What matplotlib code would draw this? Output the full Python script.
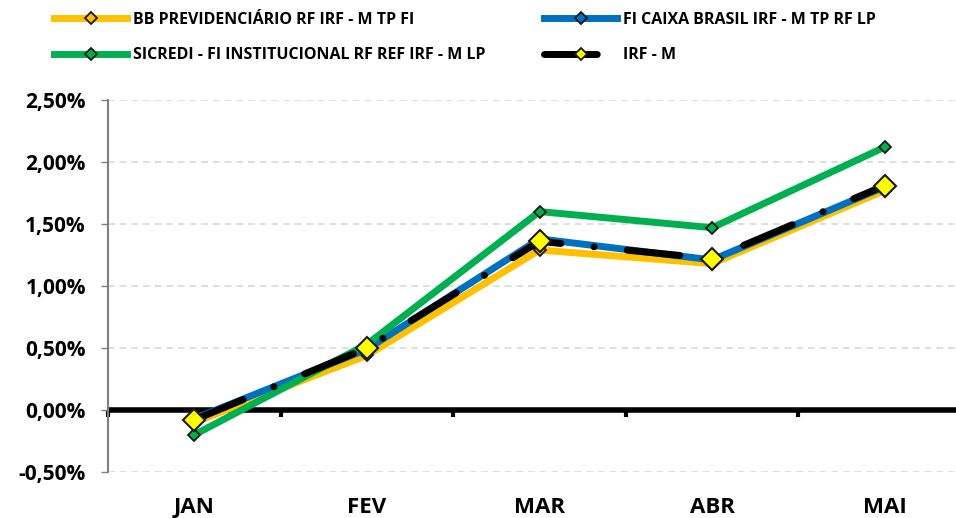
import matplotlib.pyplot as plt
from matplotlib.lines import Line2D
from matplotlib.ticker import FuncFormatter

meses = ["JAN", "FEV", "MAR", "ABR", "MAI"]

bb_prev = [-0.10, 0.44, 1.29, 1.18, 1.77]
caixa = [-0.07, 0.49, 1.38, 1.21, 1.80]
sicredi = [-0.20, 0.53, 1.60, 1.47, 2.12]
irfm = [-0.08, 0.50, 1.36, 1.22, 1.81]

nomes = ["BB PREVIDENCIÁRIO RF IRF - M TP FI",
         "FI CAIXA BRASIL IRF - M TP RF LP",
         "SICREDI - FI INSTITUCIONAL RF REF IRF - M LP",
         "IRF - M"]

plt.rcParams['font.family'] = ['Open Sans', 'DejaVu Sans']
plt.rcParams['font.weight'] = 'bold'

fig = plt.figure(figsize=(9.56, 5.18), dpi=100)
ax = fig.add_axes([0.113, 0.0888, 0.887, 0.7182])

x = list(range(len(meses)))

estilos = [
    dict(color="#FFC000", lw=5, marker="D", ms=6.6, mfc="#FFC000", mec="#1a1a1a", mew=1.3),
    dict(color="#0070C0", lw=5, marker="D", ms=6.6, mfc="#0070C0", mec="#1a1a1a", mew=1.3),
    dict(color="#00B050", lw=5, marker="D", ms=6.6, mfc="#00B050", mec="#1a1a1a", mew=1.3),
    dict(color="black", lw=5, ls=(0, (7.6, 4.8, 0.01, 4.8)), dash_capstyle="round",
         marker="D", ms=11.2, mfc="#FFFF00", mec="#1a1a1a", mew=1.5),
]
series = [bb_prev, caixa, sicredi, irfm]

for i, (serie, est) in enumerate(zip(series, estilos)):
    ax.plot(x, serie, zorder=3 + i, **est)

ax.set_xlim(-0.5, 4.413)
ax.set_ylim(-0.5, 2.5)
ax.set_yticks([-0.5, 0, 0.5, 1.0, 1.5, 2.0, 2.5])
ax.yaxis.set_major_formatter(FuncFormatter(lambda v, p: f"{v:.2f}%".replace(".", ",")))
ax.grid(axis="y", color="#d9d9d9", ls=(0, (4, 3)), lw=1.2)
ax.set_axisbelow(True)

ax.set_xticks(x)
ax.set_xticklabels(meses)
ax.tick_params(axis="x", length=0, pad=18, labelsize=16)
ax.tick_params(axis="y", length=5, width=1, color="#7f7f7f", pad=11, labelsize=15)

for s in ["top", "right", "bottom"]:
    ax.spines[s].set_visible(False)
ax.spines["left"].set_color("#7f7f7f")
ax.spines["left"].set_linewidth(1.5)

# linha do zero com marcas entre os meses
ax.axhline(0, color="black", lw=4, zorder=2)
eixo0 = ax.secondary_xaxis(1 / 6)
eixo0.set_xticks([i - 0.5 for i in range(len(meses) + 1)])
eixo0.set_xticklabels([])
eixo0.tick_params(length=5, width=3, color="black", direction="out")
for s in eixo0.spines.values():
    s.set_visible(False)

# legenda em duas colunas
proxies = []
for est in estilos:
    e = dict(est)
    e["ms"] = 6.6
    e["mew"] = 1.3
    proxies.append(Line2D([], [], **e))

opts = dict(loc="upper left", frameon=False, fontsize=11.5, handlelength=4.6,
            handletextpad=0.35, labelspacing=1.2, borderpad=0, borderaxespad=0)
leg1 = fig.legend([proxies[0], proxies[2]], [nomes[0], nomes[2]],
                  bbox_to_anchor=(54 / 956, 1 - 12 / 518), **opts)
leg2 = fig.legend([proxies[1], proxies[3]], [nomes[1], nomes[3]],
                  bbox_to_anchor=(544 / 956, 1 - 12 / 518), **opts)

fig.savefig("out.png", dpi=100)
